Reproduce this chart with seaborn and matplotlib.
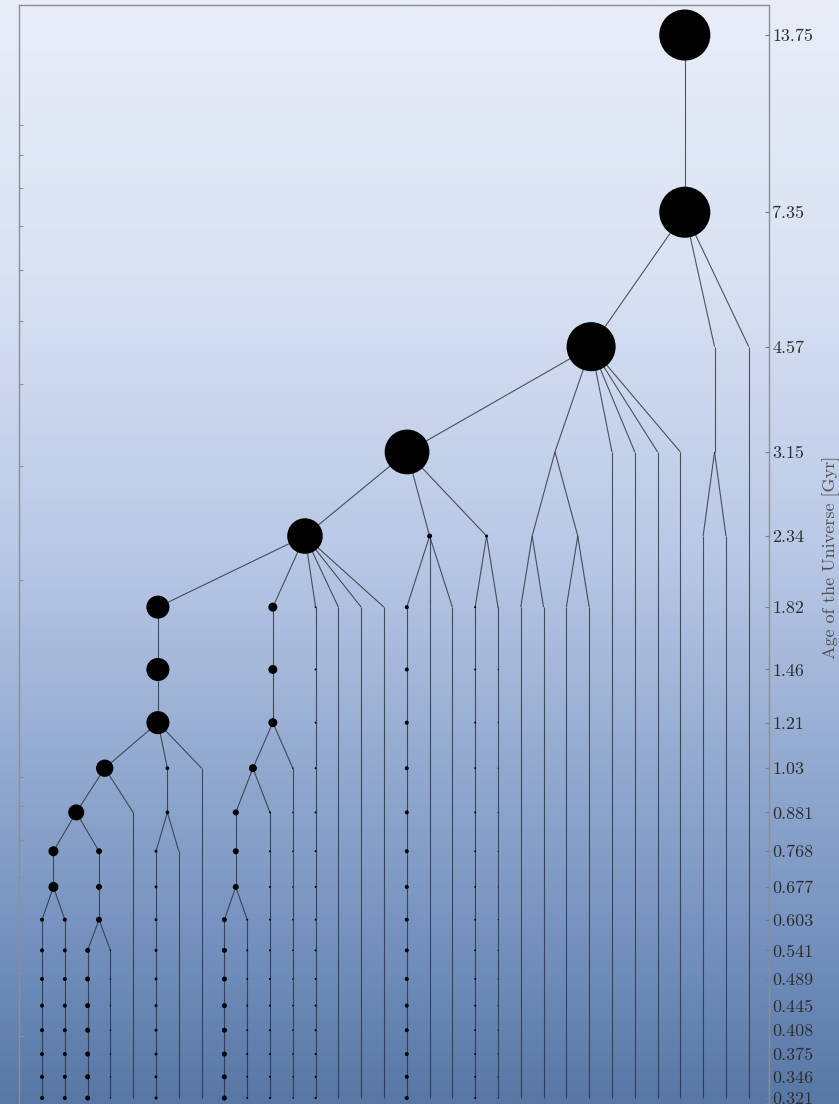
import numpy as np
import pandas as pd
import matplotlib
matplotlib.use("Agg")
import matplotlib.pyplot as plt
from matplotlib.collections import LineCollection
from matplotlib.colors import LinearSegmentedColormap
from matplotlib.ticker import NullLocator, NullFormatter
import seaborn as sns

# snapshot ages (Gyr), bottom -> top, as printed on the right axis
age_labels = ['0.321', '0.346', '0.375', '0.408', '0.445', '0.489', '0.541',
              '0.603', '0.677', '0.768', '0.881', '1.03', '1.21', '1.46',
              '1.82', '2.34', '3.15', '4.57', '7.35', '13.75']
ages = [float(a) for a in age_labels]

# leaf branches (one per column), the branch each one merges into and a mass proxy
leaf_into = ['A', 'A', 'B', 'B', 'D', 'E', 'E', 'F', 'G', 'G', 'H', 'I',
             'J', 'J', 'J', 'J', 'K', 'K', 'K', 'L', 'L', 'M', 'M', 'N',
             'N', 'Q', 'Q', 'Q', 'Q', 'R', 'R', 'S']
leaf_mass = [0.16, 0.16, 0.25, 0.02, 0.0, 0.09, 0.0, 0.0, 0.25, 0.04, 0.04, 0.02,
             0.04, 0.0, 0.0, 0.0, 0.16, 0.0, 0.0, 0.04, 0.01, 0.0, 0.0, 0.0,
             0.0, 0.0, 0.0, 0.0, 0.0, 0.0, 0.0, 0.0]

# branches born in a merger: name, first snapshot index, descendant, mass proxy
merged_name = ['A', 'B', 'C', 'D', 'E', 'F', 'G', 'H', 'I', 'J',
               'K', 'L', 'M', 'N', 'O', 'P', 'Q', 'R', 'S']
merged_start = [8, 7, 10, 11, 10, 12, 8, 11, 12, 15,
                15, 15, 15, 15, 16, 16, 17, 16, 18]
merged_into = ['C', 'C', 'D', 'F', 'F', 'J', 'H', 'I', 'J', 'P',
               'P', 'P', 'O', 'O', 'Q', 'Q', 'S', 'S', None]
merged_mass = [1.0, 0.36, 2.56, 3.0, 0.14, 5.3, 0.36, 0.64, 0.8, 12.6,
               0.25, 0.09, 0.0, 0.0, 0.0, 20.0, 24.0, 0.0, 26.0]

OUTPUT_IMAGE = 'out.png'


def build_tree():
    # branch table: start snapshot, descendant, mass
    br = {}
    for i, (d, m) in enumerate(zip(leaf_into, leaf_mass)):
        br[f'c{i}'] = dict(start=0, into=d, mass=m, col=i)
    for n, s, d, m in zip(merged_name, merged_start, merged_into, merged_mass):
        br[n] = dict(start=s, into=d, mass=m, col=None)

    progs = {k: [] for k in br}
    for k, b in br.items():
        if b['into'] is not None:
            progs[b['into']].append(k)

    # last snapshot of a branch = one before its descendant begins
    for k, b in br.items():
        b['end'] = len(ages) - 1 if b['into'] is None else br[b['into']]['start'] - 1

    # horizontal position: column for leaves, mean of progenitors otherwise
    def xpos(k):
        b = br[k]
        if 'x' not in b:
            b['x'] = b['col'] if b['col'] is not None else np.mean([xpos(p) for p in progs[k]])
        return b['x']

    for k in br:
        xpos(k)

    nodes, segs = [], []
    for k, b in br.items():
        for lev in range(b['start'], b['end'] + 1):
            nodes.append(dict(x=b['x'], age=ages[lev], mass=b['mass']))
        if b['end'] > b['start']:
            segs.append([(b['x'], ages[b['start']]), (b['x'], ages[b['end']])])
        if b['into'] is not None:
            d = br[b['into']]
            segs.append([(b['x'], ages[b['end']]), (d['x'], ages[d['start']])])
    return pd.DataFrame(nodes), segs


def generar_grafico():
    nodes, segs = build_tree()

    sns.set_style("ticks")
    plt.rcParams['font.family'] = ['cmr10', 'DejaVu Serif']
    plt.rcParams['axes.unicode_minus'] = False
    plt.rcParams['mathtext.fontset'] = 'cm'

    fig = plt.figure(figsize=(8.39, 11.04), dpi=100)

    # gradient background over the whole figure
    bg = fig.add_axes([0, 0, 1, 1], zorder=-10)
    cmap = LinearSegmentedColormap.from_list(
        'bg', [(0.0, '#e8edf8'), (0.25, '#d9e2f3'), (0.5, '#b9c8e6'),
               (0.7, '#91a9cf'), (0.85, '#7592bf'), (1.0, '#5877a5')])
    bg.imshow(np.linspace(0, 1, 512).reshape(-1, 1), aspect='auto', cmap=cmap,
              extent=[0, 1, 0, 1])
    bg.set_axis_off()

    ax = fig.add_axes([0.02265, -0.00453, 0.8945, 1.0], zorder=1)
    ax.set_facecolor('none')
    ax.set_yscale('log')

    lc = LineCollection(segs, colors='#2b2f38', linewidths=0.8, alpha=0.8, zorder=2)
    ax.add_collection(lc)

    sns.scatterplot(data=nodes, x='x', y='age', size='mass',
                    sizes=(0, 26 * 52), size_norm=(0, 26), color='black',
                    linewidth=0, legend=False, ax=ax, zorder=3)

    ax.set_xlim(-1.01, 31.91)
    ax.set_ylim(0.3088, 15.29)
    ax.set_xticks([])
    ax.set_xlabel('')
    ax.set_ylabel('')

    # right axis: snapshot ages (twin made first, since twinx resets the parent's side)
    axr = ax.twinx()
    axr.set_yscale('log')
    axr.set_ylim(ax.get_ylim())
    axr.set_yticks(ages)
    axr.set_yticklabels(age_labels)
    axr.yaxis.set_minor_locator(NullLocator())
    axr.tick_params(axis='y', which='major', direction='in', length=3, width=0.8,
                    color='#7d7d7d', labelsize=13, labelcolor='#2e2e2e', pad=2,
                    left=False, labelleft=False, right=True, labelright=True)
    axr.set_ylabel('Age of the Universe [Gyr]', fontsize=13, color='#505050', labelpad=6)
    for side in axr.spines:
        axr.spines[side].set_visible(False)

    # left axis: plain log ticks, no labels
    ax.yaxis.tick_left()
    ax.yaxis.set_major_formatter(NullFormatter())
    ax.yaxis.set_minor_formatter(NullFormatter())
    ax.tick_params(axis='y', which='both', direction='in', length=3, width=0.8,
                   color='#8a8f99', labelleft=False, labelright=False,
                   right=False)

    for side in ['left', 'top', 'right']:
        ax.spines[side].set_color('#8a8f99')
        ax.spines[side].set_linewidth(1.0)
    ax.spines['bottom'].set_visible(False)

    fig.savefig(OUTPUT_IMAGE, dpi=100)


if __name__ == "__main__":
    generar_grafico()
